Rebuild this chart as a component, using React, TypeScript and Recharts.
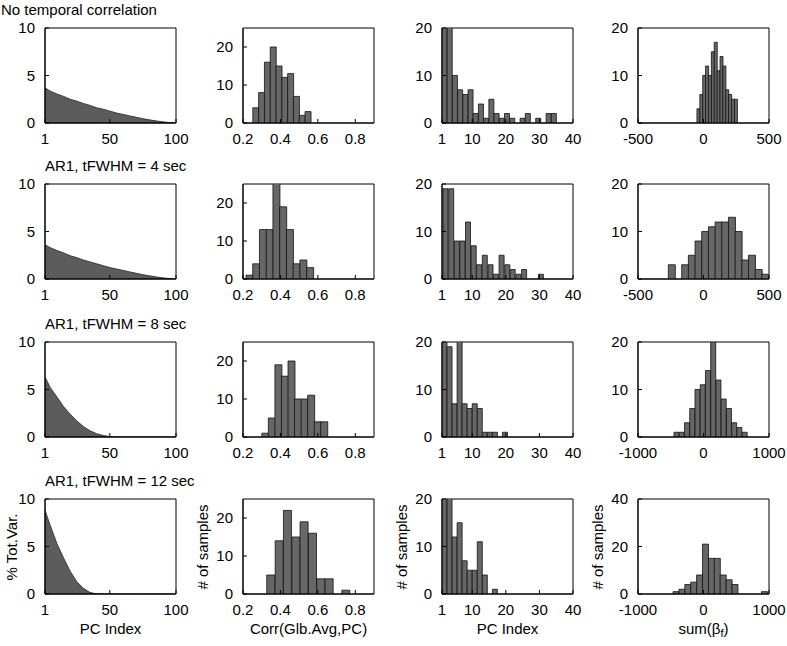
import React from "react"
import { BarChart, Bar, AreaChart, Area, XAxis, YAxis, ReferenceArea } from "recharts"

// column 1: % of total variance against PC index (read every 5 PCs)
const pcIndex = [1, 5, 10, 15, 20, 25, 30, 35, 40, 45, 50, 55, 60, 65, 70, 75, 80, 85, 90, 95, 100]
const varNoCorr = [3.7, 3.35, 3.05, 2.8, 2.5, 2.3, 2.05, 1.85, 1.6, 1.45, 1.25, 1.05, 0.9, 0.75, 0.6, 0.45, 0.33, 0.22, 0.12, 0.05, 0]
const varAr4 = [3.6, 3.3, 3.0, 2.75, 2.45, 2.25, 2.0, 1.8, 1.6, 1.4, 1.2, 1.05, 0.9, 0.75, 0.6, 0.45, 0.33, 0.22, 0.12, 0.05, 0]
const varAr8 = [6.3, 5.2, 4.2, 3.2, 2.4, 1.7, 1.1, 0.65, 0.35, 0.15, 0.04, 0, 0, 0, 0, 0, 0, 0, 0, 0, 0]
const varAr12 = [8.8, 7.2, 5.3, 3.8, 2.4, 1.3, 0.6, 0.15, 0.02, 0, 0, 0, 0, 0, 0, 0, 0, 0, 0, 0, 0]

// column 2: Corr(Glb.Avg,PC) histograms (bin centres, counts)
const corrBinsNoCorr = [0.268, 0.299, 0.33, 0.361, 0.392, 0.423, 0.454, 0.485, 0.516, 0.547]
const corrCountNoCorr = [4, 8, 16, 20, 15, 12, 13, 7, 2, 3]
const corrBinsAr4 = [0.234, 0.27, 0.306, 0.342, 0.378, 0.414, 0.45, 0.486, 0.522, 0.558]
const corrCountAr4 = [1, 4, 13, 13, 27, 19, 13, 4, 5, 3]
const corrBinsAr8 = [0.318, 0.353, 0.388, 0.423, 0.458, 0.493, 0.528, 0.563, 0.598, 0.633]
const corrCountAr8 = [1, 5, 19, 16, 20, 10, 10, 11, 4, 4]
const corrBinsAr12 = [0.349, 0.394, 0.438, 0.483, 0.527, 0.572, 0.616, 0.661, 0.705, 0.75]
const corrCountAr12 = [5, 14, 22, 15, 19, 16, 4, 4, 0, 1]

// column 3: PC index histograms
const pcBinsNoCorr = [1.78, 3.33, 4.88, 6.43, 7.98, 9.53, 11.08, 12.63, 14.18, 15.73, 17.28, 18.83, 20.38, 21.93, 23.48, 25.03, 26.58, 28.13, 29.68, 31.23, 32.78, 34.33]
const pcCountNoCorr = [22, 22, 10, 7, 6, 7, 2, 4, 1, 5, 2, 1, 2, 1, 0, 1, 2, 0, 1, 0, 2, 2]
const pcBinsAr4 = [2.1, 3.8, 5.5, 7.1, 8.8, 10.5, 12.1, 13.8, 15.5, 17.1, 18.8, 20.5, 22.1, 23.8, 25.5, 27.1, 28.8, 30.5]
const pcCountAr4 = [19, 19, 8, 8, 12, 7, 3, 5, 3, 1, 5, 3, 2, 1, 2, 0, 0, 1]
const pcBinsAr8 = [1.75, 3.25, 4.75, 6.25, 7.75, 9.25, 10.75, 12.25, 13.75, 15.25, 16.75, 18.25, 19.75]
const pcCountAr8 = [22, 19, 7, 22, 7, 6, 7, 6, 1, 1, 1, 0, 1]
const pcBinsAr12 = [1.75, 3.25, 4.75, 6.25, 7.75, 9.25, 10.75, 12.25, 13.75, 15.25, 16.75]
const pcCountAr12 = [22, 22, 12, 15, 7, 5, 5, 11, 4, 0, 1]

// column 4: sum(beta_f) histograms
const sumBinsNoCorr = [-39, -17, 5, 27, 49, 71, 93, 115, 137, 159, 181, 203, 225, 247]
const sumCountNoCorr = [3, 6, 10, 12, 10, 15, 17, 11, 14, 12, 7, 6, 5, 5]
const sumBinsAr4 = [-243, -192, -141, -90, -39, 12, 63, 114, 165, 216, 267, 318, 369, 420, 471]
const sumCountAr4 = [3, 0, 3, 5, 8, 10, 11, 12, 12, 13, 10, 4, 5, 2, 1]
const sumBinsAr8 = [-410, -330, -250, -170, -90, -10, 70, 150, 230, 310, 390, 470, 550, 630]
const sumCountAr8 = [1, 1, 3, 6, 10, 11, 14, 20, 12, 8, 6, 3, 2, 1]
const sumBinsAr12 = [-420, -330, -240, -150, -60, 30, 120, 210, 300, 390, 480, 570, 660, 750, 840, 930]
const sumCountAr12 = [1, 2, 4, 5, 8, 21, 15, 15, 8, 6, 4, 0, 0, 0, 0, 1]

const colLeft = [45, 243, 442, 638]
const rowTop = [28, 184, 342, 499]
const PW = 131
const PH = 95
const AXW = 36
const MT = 10
const MR = 24
const AXH = 28
const TICK_IN = -4
const font = "'Liberation Sans', Arial, sans-serif"
const tickStyle = { fontSize: 15, fill: "#000", fontFamily: font }

const toRows = (xs: number[], ys: number[]) => xs.map((x, i) => ({ x, n: ys[i] }))

type PanelProps = {
  col: number
  row: number
  data: { x: number; n: number }[]
  xDomain: [number, number]
  xTicks: number[]
  yDomain: [number, number]
  yTicks: number[]
  area?: boolean
}

function Panel({ col, row, data, xDomain, xTicks, yDomain, yTicks, area }: PanelProps) {
  const style: React.CSSProperties = {
    position: "absolute",
    left: colLeft[col] - AXW,
    top: rowTop[row] - MT,
  }
  const w = AXW + PW + MR
  const h = MT + PH + AXH
  const margin = { top: MT, right: MR, left: 0, bottom: 0 }
  const line = { stroke: "#000" }
  const axes = [
    <XAxis
      key="x"
      dataKey="x"
      type="number"
      domain={xDomain}
      ticks={xTicks}
      allowDataOverflow
      tickLine={line}
      tickSize={TICK_IN}
      axisLine={line}
      tick={tickStyle}
      tickMargin={14}
      height={AXH}
      interval={0}
    />,
    <XAxis
      key="xt"
      xAxisId="top"
      orientation="top"
      dataKey="x"
      type="number"
      domain={xDomain}
      ticks={xTicks}
      allowDataOverflow
      tickLine={line}
      tickSize={TICK_IN}
      axisLine={line}
      tick={false}
      height={0}
      interval={0}
    />,
    <YAxis
      key="y"
      type="number"
      domain={yDomain}
      ticks={yTicks}
      allowDataOverflow
      tickLine={line}
      tickSize={TICK_IN}
      axisLine={line}
      tick={tickStyle}
      tickMargin={14}
      width={AXW}
      interval={0}
    />,
    <YAxis
      key="yr"
      yAxisId="right"
      orientation="right"
      type="number"
      domain={yDomain}
      ticks={yTicks}
      allowDataOverflow
      tickLine={line}
      tickSize={TICK_IN}
      axisLine={line}
      tick={false}
      width={0}
      interval={0}
    />,
  ]
  const box = (
    <ReferenceArea
      key="box"
      x1={xDomain[0]}
      x2={xDomain[1]}
      y1={yDomain[0]}
      y2={yDomain[1]}
      fill="none"
      stroke="#000"
      strokeWidth={1}
      ifOverflow="visible"
    />
  )
  return (
    <div style={style}>
      {area ? (
        <AreaChart width={w} height={h} data={data} margin={margin}>
          {axes}
          <Area
            dataKey="n"
            type="linear"
            fill="#5c5c5c"
            fillOpacity={1}
            stroke="#3a3a3a"
            strokeWidth={1}
            isAnimationActive={false}
          />
          {box}
        </AreaChart>
      ) : (
        <BarChart width={w} height={h} data={data} margin={margin} barCategoryGap={0} barGap={0}>
          {axes}
          <Bar dataKey="n" fill="#676767" stroke="#111" strokeWidth={0.8} isAnimationActive={false} />
          {box}
        </BarChart>
      )}
    </div>
  )
}

const titles = ["No temporal correlation", "AR1, tFWHM = 4 sec", "AR1, tFWHM = 8 sec", "AR1, tFWHM = 12 sec"]

const text = (s: React.CSSProperties): React.CSSProperties => ({
  position: "absolute",
  fontFamily: font,
  fontSize: 15,
  color: "#000",
  whiteSpace: "nowrap",
  lineHeight: "18px",
  ...s,
})

export default function App() {
  const varRows = [varNoCorr, varAr4, varAr8, varAr12]
  const corrRows = [
    toRows(corrBinsNoCorr, corrCountNoCorr),
    toRows(corrBinsAr4, corrCountAr4),
    toRows(corrBinsAr8, corrCountAr8),
    toRows(corrBinsAr12, corrCountAr12),
  ]
  const pcRows = [
    toRows(pcBinsNoCorr, pcCountNoCorr),
    toRows(pcBinsAr4, pcCountAr4),
    toRows(pcBinsAr8, pcCountAr8),
    toRows(pcBinsAr12, pcCountAr12),
  ]
  const sumRows = [
    toRows(sumBinsNoCorr, sumCountNoCorr),
    toRows(sumBinsAr4, sumCountAr4),
    toRows(sumBinsAr8, sumCountAr8),
    toRows(sumBinsAr12, sumCountAr12),
  ]
  const sumDomains: [number, number][] = [[-500, 500], [-500, 500], [-1000, 1000], [-1000, 1000]]
  const sumTicks = [[-500, 0, 500], [-500, 0, 500], [-1000, 0, 1000], [-1000, 0, 1000]]

  return (
    <div style={{ position: "absolute", left: 0, top: 0, width: 787, height: 646, background: "#fff", overflow: "hidden" }}>
      {titles.map((t, r) => (
        <div
          key={t}
          style={
            r === 0
              ? text({ left: 1, top: 1 })
              : text({ left: colLeft[0], width: PW, textAlign: "center", top: rowTop[r] - 27 })
          }
        >
          {t}
        </div>
      ))}
      {[0, 1, 2, 3].map((r) => (
        <React.Fragment key={r}>
          <Panel
            col={0}
            row={r}
            area
            data={toRows(pcIndex, varRows[r])}
            xDomain={[1, 100]}
            xTicks={[1, 50, 100]}
            yDomain={[0, 10]}
            yTicks={[0, 5, 10]}
          />
          <Panel
            col={1}
            row={r}
            data={corrRows[r]}
            xDomain={[0.2, 0.9]}
            xTicks={[0.2, 0.4, 0.6, 0.8]}
            yDomain={[0, 25]}
            yTicks={[0, 10, 20]}
          />
          <Panel
            col={2}
            row={r}
            data={pcRows[r]}
            xDomain={[1, 40]}
            xTicks={[1, 10, 20, 30, 40]}
            yDomain={[0, 20]}
            yTicks={[0, 10, 20]}
          />
          <Panel
            col={3}
            row={r}
            data={sumRows[r]}
            xDomain={sumDomains[r]}
            xTicks={sumTicks[r]}
            yDomain={r === 3 ? [0, 40] : [0, 20]}
            yTicks={r === 3 ? [0, 20, 40] : [0, 10, 20]}
          />
        </React.Fragment>
      ))}
      {["% Tot.Var.", "# of samples", "# of samples", "# of samples"].map((t, c) => (
        <div
          key={c}
          style={text({
            left: c === 0 ? 12 : colLeft[c] - 40,
            top: rowTop[3] + PH / 2 - 9,
            width: 0,
            transform: "rotate(-90deg)",
            display: "flex",
            justifyContent: "center",
          })}
        >
          <span>{t}</span>
        </div>
      ))}
      {["PC Index", "Corr(Glb.Avg,PC)", "PC Index"].map((t, c) => (
        <div key={c} style={text({ left: colLeft[c], width: PW, textAlign: "center", top: rowTop[3] + PH + 26 })}>
          {t}
        </div>
      ))}
      <div style={text({ left: colLeft[3], width: PW, textAlign: "center", top: rowTop[3] + PH + 26 })}>
        sum(β<sub style={{ fontSize: 11, verticalAlign: "-3px" }}>f</sub>)
      </div>
    </div>
  )
}
